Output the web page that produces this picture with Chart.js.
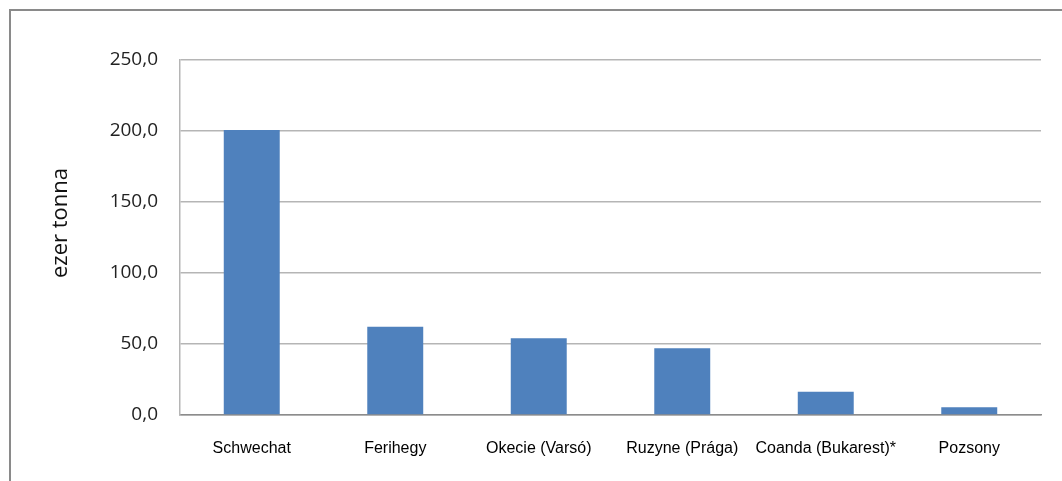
<!DOCTYPE html>
<html>
<head>
<meta charset="utf-8">
<script src="https://cdn.jsdelivr.net/npm/chart.js@4/dist/chart.umd.min.js"></script>
<style>
  html, body { margin: 0; padding: 0; background: #fff; }
  #wrap { position: relative; width: 1062px; height: 481px; overflow: hidden; }
  #frame { position: absolute; left: 9px; top: 9px; width: 1100px; height: 520px;
           border-left: 2px solid #8a8a8a; border-top: 2px solid #8a8a8a; box-sizing: border-box; }
  canvas { position: absolute; left: 0; top: 0; }
</style>
</head>
<body>
<div id="wrap">
  <div id="frame"></div>
  <canvas id="c" width="1062" height="481"></canvas>
</div>
<script>
const categories = ["Schwechat", "Ferihegy", "Okecie (Varsó)", "Ruzyne (Prága)", "Coanda (Bukarest)*", "Pozsony"];
const values = [200.7, 62.2, 54.0, 47.0, 16.4, 5.4];
const yTicks = [0, 50, 100, 150, 200, 250];
const yTitle = "ezer tonna";

new Chart(document.getElementById("c"), {
  type: "bar",
  data: {
    labels: categories,
    datasets: [{
      data: values,
      backgroundColor: "#4f81bd",
      borderWidth: 0,
      barPercentage: 0.39,
      categoryPercentage: 1.0
    }]
  },
  options: {
    responsive: false,
    animation: false,
    maintainAspectRatio: false,
    layout: { padding: { left: 0, right: 21, top: 60, bottom: 0 } },
    plugins: { legend: { display: false }, tooltip: { enabled: false } },
    scales: {
      x: {
        grid: { display: false, drawTicks: false },
        border: { display: true, color: "#8c8c8c", width: 1.5 },
        ticks: { padding: 24, color: "#000", font: { family: "Liberation Sans", size: 16 }, maxRotation: 0, autoSkip: false },
        afterFit(scale) { scale.height = 66; }
      },
      y: {
        min: yTicks[0],
        max: yTicks[yTicks.length - 1],
        afterBuildTicks(scale) { scale.ticks = yTicks.map(v => ({ value: v })); },
        grid: { color: "#b5b5b5", lineWidth: 1.5, drawTicks: false },
        border: { display: true, color: "#b5b5b5", width: 1.5 },
        ticks: {
          padding: 22, color: "#222",
          font: { family: "Open Sans", size: 19 },
          callback: v => v.toFixed(1).replace(".", ",")
        },
        title: { display: false },
        afterFit(scale) { scale.width = 180; }
      }
    }
  },
  plugins: [{
    id: "yTitle",
    afterDraw(chart) {
      const ctx = chart.ctx;
      ctx.save();
      ctx.translate(61, 223);
      ctx.rotate(-Math.PI / 2);
      ctx.font = "22px 'Open Sans'";
      ctx.fillStyle = "#111";
      ctx.textAlign = "center";
      ctx.textBaseline = "middle";
      ctx.fillText(yTitle, 0, 0);
      ctx.restore();
    }
  }]
});
</script>
</body>
</html>
